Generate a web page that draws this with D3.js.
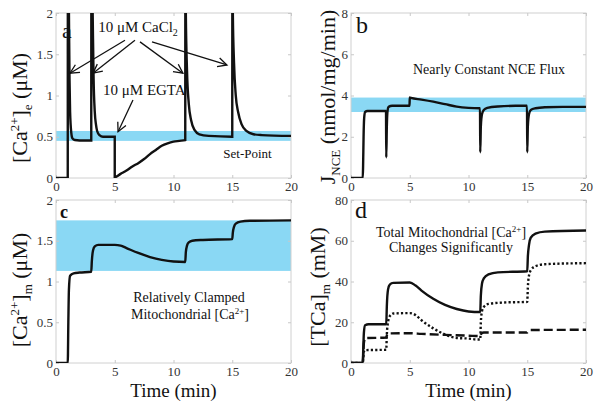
<!DOCTYPE html>
<html><head><meta charset="utf-8">
<script src="https://cdn.jsdelivr.net/npm/d3@7"></script>
<style>body{margin:0;background:#fff}svg{display:block}text{font-family:"Liberation Serif","Times New Roman",serif}</style>
</head><body>
<svg id="c" width="602" height="406"></svg>
<script>
// ---------- data ----------
const xTicks = [0, 5, 10, 15, 20];
const yTicksA = [0, 0.5, 1, 1.5, 2];
const yTicksB = [0, 2, 4, 6, 8];
const yTicksC = [0, 0.5, 1, 1.5, 2];
const yTicksD = [0, 20, 40, 60, 80];

// panel a: extracellular Ca2+ (uM)
const tA  = [0, 1.0, 1.01, 1.1, 1.15, 1.2, 1.3, 1.4, 1.6, 2.0, 3.0, 3.01, 3.12, 3.2, 3.3, 3.4, 3.5, 3.7, 4.0, 5.0,
             5.0, 5.5, 6.0, 6.5, 7.0, 7.5, 8.0, 8.5, 9.0, 9.5, 10.0, 10.5, 11.0,
             11.01, 11.05, 11.15, 11.3, 11.5, 11.8, 12.2, 13.0, 15.0,
             15.01, 15.05, 15.15, 15.3, 15.5, 15.8, 16.2, 16.8, 17.5, 20.0];
const caE = [0, 0, 3.0, 2.0, 1.2, 0.8, 0.55, 0.48, 0.46, 0.455, 0.455, 3.0, 2.0, 1.2, 0.8, 0.65, 0.57, 0.52, 0.5, 0.5,
             0.01, 0.05, 0.09, 0.14, 0.18, 0.23, 0.29, 0.34, 0.39, 0.42, 0.44, 0.45, 0.46,
             3.0, 2.0, 1.3, 0.9, 0.7, 0.58, 0.53, 0.51, 0.5,
             3.0, 2.0, 1.4, 1.0, 0.8, 0.65, 0.57, 0.53, 0.52, 0.51];
const bandA = [0.45, 0.57];

// panel b: NCE flux (nmol/mg/min)
const tB   = [0, 1.0, 1.03, 1.07, 1.12, 1.2, 1.4, 2.98, 3.0, 3.05, 3.1, 3.2, 3.5, 4.98, 5.0, 5.1, 6, 7, 8, 9, 10, 10.98,
              11.0, 11.05, 11.15, 11.3, 11.6, 12.5, 14, 14.98, 15.0, 15.05, 15.15, 15.3, 15.7, 16.5, 18, 20];
const jNCE = [0, 0, 0.6, 2.0, 2.9, 3.2, 3.25, 3.25, 1.0, 2.5, 3.2, 3.45, 3.5, 3.5, 3.9, 3.88, 3.8, 3.7, 3.58, 3.46, 3.4, 3.38,
              1.25, 2.5, 3.1, 3.3, 3.4, 3.47, 3.5, 3.5, 1.25, 2.5, 3.1, 3.3, 3.38, 3.43, 3.45, 3.45];
const bandB = [3.2, 3.9];

// panel c: mitochondrial free Ca2+ (uM)
const tC  = [0, 1.0, 1.05, 1.1, 1.2, 1.5, 2, 3, 3.05, 3.15, 3.3, 3.6, 5, 5.5, 6, 7, 8, 9, 10, 11,
             11.05, 11.15, 11.3, 11.6, 12.5, 15, 15.05, 15.15, 15.3, 15.7, 16.5, 20];
const caM = [0, 0, 0.5, 0.9, 1.07, 1.1, 1.11, 1.12, 1.25, 1.38, 1.43, 1.45, 1.45, 1.44, 1.41, 1.35, 1.3, 1.265, 1.245, 1.24,
             1.36, 1.44, 1.48, 1.5, 1.51, 1.52, 1.6, 1.67, 1.71, 1.735, 1.745, 1.75];
const bandC = [1.13, 1.75];

// panel d: total mitochondrial Ca (mM)
const tD1 = [0, 1, 1.05, 1.1, 1.2, 1.5, 3, 3.05, 3.15, 3.3, 3.6, 5, 5.5, 6, 7, 8, 9, 10, 11,
             11.05, 11.15, 11.3, 11.7, 12.5, 15, 15.05, 15.15, 15.3, 15.7, 16.5, 20];
const tcaSolid = [0, 0, 8, 15, 18.5, 19, 19, 28, 36, 38.5, 39.3, 39.5, 38, 35.5, 31.5, 28.5, 26.5, 25.3, 25,
             33, 39, 41.5, 43.5, 44.5, 45, 52, 58, 61.5, 63.5, 64.5, 65];
const tD2 = [0, 1, 1.05, 1.1, 1.2, 3, 3.05, 3.15, 3.3, 3.6, 5, 5.5, 6, 7, 8, 9, 10, 10.8, 11,
             11.05, 11.15, 11.3, 11.7, 13, 15, 15.05, 15.15, 15.3, 15.7, 16.5, 20];
const tcaDotted = [0, 0, 3, 5.5, 6.3, 6.5, 14, 20, 23, 24.3, 24.5, 23.5, 21, 17, 14, 12.3, 12, 11.5, 11.5,
             20, 25.5, 27.5, 29, 29.7, 30, 37, 43, 45.5, 47.5, 48.5, 49];
const tD3 = [0, 1, 1.05, 1.1, 1.2, 3, 3.05, 3.2, 5, 6, 8, 10, 11, 11.1, 11.3, 15, 15.1, 15.3, 20];
const tcaDashed = [0, 0, 5, 10, 12.2, 12.5, 13.5, 14.5, 14.6, 14.3, 13.8, 13.4, 13.2, 14.5, 15, 15, 15.8, 16.2, 16.3];

// ---------- drawing ----------
const svg = d3.select("#c");
const FONT = '"Liberation Serif","Times New Roman",serif';
const panels = [
  {id:"a", x0:56,  x1:291, y0:13,  y1:178, yMax:2,  yTicks:yTicksA, band:bandA,
   series:[{t:tA, v:caE, dash:null}]},
  {id:"b", x0:351, x1:586, y0:13,  y1:178, yMax:8,  yTicks:yTicksB, band:bandB,
   series:[{t:tB, v:jNCE, dash:null}]},
  {id:"c", x0:56,  x1:291, y0:200, y1:363, yMax:2,  yTicks:yTicksC, band:bandC,
   series:[{t:tC, v:caM, dash:null}]},
  {id:"d", x0:351, x1:586, y0:200, y1:363, yMax:80, yTicks:yTicksD, band:null,
   series:[{t:tD1, v:tcaSolid, dash:null},{t:tD2, v:tcaDotted, dash:"2.2,2.2"},{t:tD3, v:tcaDashed, dash:"9,4"}]}
];

const defs = svg.append("defs");
defs.append("marker").attr("id","arr").attr("viewBox","-10 -6 12 12")
  .attr("refX",0).attr("refY",0).attr("markerWidth",12).attr("markerHeight",12)
  .attr("markerUnits","userSpaceOnUse").attr("orient","auto")
  .append("path").attr("d","M-9,-4.5 L0,0 L-9,4.5").attr("fill","none").attr("stroke","#111").attr("stroke-width",1.3);

panels.forEach(p => {
  p.x = d3.scaleLinear().domain([0,20]).range([p.x0,p.x1]);
  p.y = d3.scaleLinear().domain([0,p.yMax]).range([p.y1,p.y0]);
  const g = svg.append("g");
  defs.append("clipPath").attr("id","clip"+p.id).append("rect")
    .attr("x",p.x0).attr("y",p.y0).attr("width",p.x1-p.x0).attr("height",p.y1-p.y0);
  if (p.band) {
    g.append("rect").attr("x",p.x0).attr("width",p.x1-p.x0)
      .attr("y",p.y(p.band[1])).attr("height",p.y(p.band[0])-p.y(p.band[1]))
      .attr("fill","#8ad8f4");
  }
  g.append("rect").attr("x",p.x0).attr("y",p.y0).attr("width",p.x1-p.x0).attr("height",p.y1-p.y0)
    .attr("fill","none").attr("stroke","#d0d0d0").attr("stroke-width",1);
  const ax = g.append("g").attr("transform",`translate(0,${p.y1})`)
    .call(d3.axisBottom(p.x).tickValues(xTicks).tickSize(-3).tickPadding(4).tickFormat(d3.format("d")));
  const ay = g.append("g").attr("transform",`translate(${p.x0},0)`)
    .call(d3.axisLeft(p.y).tickValues(p.yTicks).tickSize(-3).tickPadding(3).tickFormat(d => String(d)));
  const axT = g.append("g").attr("transform",`translate(0,${p.y0})`)
    .call(d3.axisTop(p.x).tickValues(xTicks).tickSize(-3).tickFormat(""));
  const ayR = g.append("g").attr("transform",`translate(${p.x1},0)`)
    .call(d3.axisRight(p.y).tickValues(p.yTicks).tickSize(-3).tickFormat(""));
  [ax,ay,axT,ayR].forEach(a => {
    a.select(".domain").remove();
    a.selectAll("line").attr("stroke","#c8c8c8");
    a.selectAll("text").attr("fill","#333").style("font-family",FONT).style("font-size","13px");
  });
  const lines = g.append("g").attr("clip-path",`url(#clip${p.id})`);
  p.series.forEach(s => {
    const pts = s.t.map((t,i) => [t, s.v[i]]);
    lines.append("path").datum(pts)
      .attr("d", d3.line().x(d => p.x(d[0])).y(d => p.y(d[1])).curve(d3.curveMonotoneX))
      .attr("fill","none").attr("stroke","#111").attr("stroke-width",2.4)
      .attr("stroke-dasharray", s.dash);
  });
});

function txt(x,y,size,anchor){
  return svg.append("text").attr("x",x).attr("y",y).attr("text-anchor",anchor||"middle")
    .style("font-size",size+"px").style("font-family",FONT).attr("fill","#111");
}

const [pa,pb,pc,pd] = panels;

txt(pa.x0+6, 38, 22, "start").text("a");
txt(pb.x0+5, 33, 24, "start").text("b");
txt(pc.x0+4, 218, 18, "start").style("font-weight","bold").text("c");
txt(pd.x0+4, 218, 24, "start").text("d");

{
  const t = txt(138, 32, 15);
  t.append("tspan").text("10 μM CaCl");
  t.append("tspan").text("2").attr("dy",4).style("font-size","10px");
}
txt(103, 95, 15, "start").text("10 μM EGTA");
txt(pa.x(16.3), 158, 13).text("Set-Point");
const arrows = [
  [5.87,1.67,1.19,1.27],[6.72,1.67,3.15,1.27],[7.15,1.65,10.8,1.27],[8.17,1.65,14.55,1.37],[6.55,0.945,5.28,0.56]
];
arrows.forEach(a => {
  svg.append("line").attr("x1",pa.x(a[0])).attr("y1",pa.y(a[1])).attr("x2",pa.x(a[2])).attr("y2",pa.y(a[3]))
    .attr("stroke","#111").attr("stroke-width",1.3).attr("marker-end","url(#arr)");
});

txt(489, 74, 14).text("Nearly Constant NCE Flux");

txt(189, 302, 14).text("Relatively Clamped");
{
  const t = txt(190, 319, 14);
  t.append("tspan").text("Mitochondrial [Ca");
  t.append("tspan").text("2+").attr("dy",-5).style("font-size","9px");
  t.append("tspan").text("]").attr("dy",5);
}
{
  const t = txt(451, 237, 14);
  t.append("tspan").text("Total Mitochondrial [Ca");
  t.append("tspan").text("2+").attr("dy",-5).style("font-size","9px");
  t.append("tspan").text("]").attr("dy",5);
}
txt(451, 252, 14).text("Changes Significantly");

function ylab(x,y,build){
  const t = svg.append("text").attr("transform",`translate(${x},${y}) rotate(-90)`)
    .attr("text-anchor","middle").style("font-size","22px").style("font-family",FONT).attr("fill","#111");
  build(t);
}
ylab(27,108,t=>{
  t.append("tspan").text("[Ca");
  t.append("tspan").text("2+").attr("dy",-8).style("font-size","13px");
  t.append("tspan").text("]").attr("dy",8);
  t.append("tspan").text("e").attr("dy",5).style("font-size","13px");
  t.append("tspan").text(" (μM)").attr("dy",-5);
});
ylab(335,97,t=>{
  t.append("tspan").text("J");
  t.append("tspan").text("NCE").attr("dy",5).style("font-size","13px");
  t.append("tspan").text(" (nmol/mg/min)").attr("dy",-5);
});
ylab(27,290,t=>{
  t.append("tspan").text("[Ca");
  t.append("tspan").text("2+").attr("dy",-8).style("font-size","13px");
  t.append("tspan").text("]").attr("dy",8);
  t.append("tspan").text("m").attr("dy",5).style("font-size","13px");
  t.append("tspan").text(" (μM)").attr("dy",-5);
});
ylab(325,287,t=>{
  t.append("tspan").text("[TCa]");
  t.append("tspan").text("m").attr("dy",5).style("font-size","13px");
  t.append("tspan").text(" (mM)").attr("dy",-5);
});
txt((pc.x0+pc.x1)/2, 397, 19).text("Time (min)");
txt((pd.x0+pd.x1)/2, 397, 19).text("Time (min)");
</script>
</body></html>
